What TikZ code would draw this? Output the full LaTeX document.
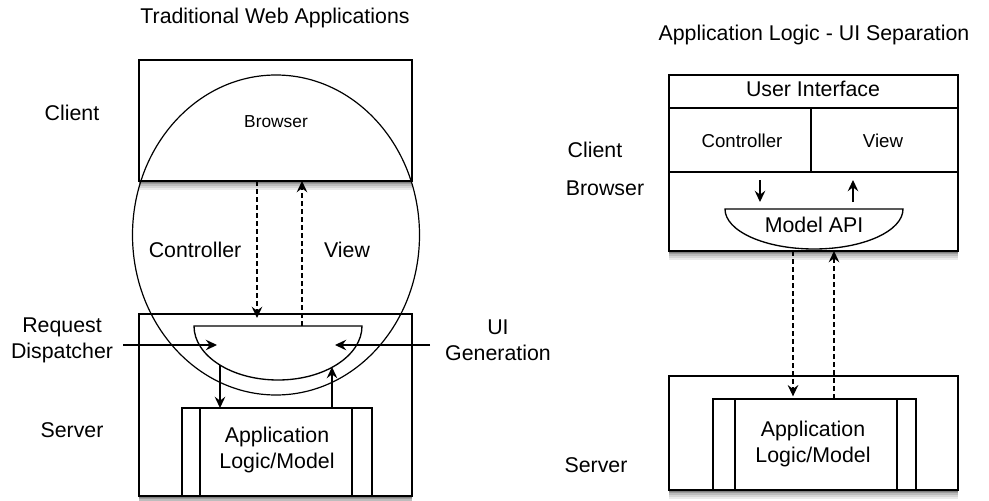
\documentclass[tikz,border=0pt]{standalone}
\usepackage{fontspec}
\setmainfont{Liberation Sans}
\usetikzlibrary{arrows.meta,fit,shapes.geometric}
\begin{document}
\begin{tikzpicture}[x=0.75pt,y=-0.75pt,
  box/.style={draw, line width=1pt, fill=white, inner sep=0pt, outer sep=0pt},
  shadowed/.style={
    preaction={fill=black!8, transform canvas={yshift=-7pt}},
    preaction={fill=black!16, transform canvas={yshift=-5.5pt}},
    preaction={fill=black!26, transform canvas={yshift=-4pt}},
    preaction={fill=black!38, transform canvas={yshift=-2.5pt}},
    preaction={fill=black!50, transform canvas={yshift=-1.2pt}}},
  lbl/.style={font=\fontsize{16}{19.5}\selectfont, align=center, inner sep=0pt},
  mid/.style={font=\fontsize{14}{17}\selectfont, inner sep=0pt},
  small/.style={font=\fontsize{13}{16}\selectfont, inner sep=0pt},
  link/.style={line width=0.9pt, -{Stealth[length=8.5pt,width=8pt,inset=3pt]}},
  dlink/.style={link, dash pattern=on 3.5pt off 2.5pt},
  part/.style={line width=1pt},
]
\useasboundingbox (0,0) rectangle (989,500);

% ---------------- Traditional web applications ----------------
\node[lbl] (ltitle) at (275,18) {Traditional Web Applications};

\node[box, shadowed, fit={(139,60) (412,181)}] (lclient) {};
\node[box, shadowed, fit={(139,314) (412,496)}] (lserver) {};

% the browser sphere spanning client and server
\node[draw, ellipse, line width=0.9pt, inner sep=0pt,
      minimum width=215.25pt, minimum height=240pt] (lsphere) at (276,235) {};

% request dispatcher bowl
\draw[part, fill=white] (194,326) -- (362,326)
  arc[start angle=0, end angle=-180, x radius=63pt, y radius=40.5pt] -- cycle;
\coordinate (ldisp) at (278,326);

% application logic block
\node[box, fit={(182,408) (372,496)}] (lapp) {};
\draw[part] (lapp.north -| 200,0) -- (lapp.south -| 200,0);
\draw[part] (lapp.north -| 352,0) -- (lapp.south -| 352,0);
\node[lbl] (lapptext) at (277,450) {Application\\Logic/Model};

\node[lbl] (lclientlbl) at (72,113) {Client};
\node[lbl] (lserverlbl) at (72,430) {Server};
\node[small] (lbrowser) at (276,122) {Browser};
\node[lbl] (lctrl) at (195,250) {Controller};
\node[lbl] (lview) at (347,250) {View};
\node[lbl] (lreq) at (62,340) {Request\\Dispatcher};
\node[lbl] (lui) at (498,340) {UI\\Generation};

% connectors
\coordinate (lcx) at (257,0);
\coordinate (lvx) at (302,0);
\draw[dlink] (lclient.south -| lcx) -- ([yshift=-3pt]lserver.north -| lcx);
\draw[dlink] (ldisp -| lvx) -- (lclient.south -| lvx);
\coordinate (lreqa) at (123,345);
\coordinate (lreqb) at (217,345);
\draw[link] (lreqa) -- (lreqb);
\coordinate (luia) at (430,345);
\coordinate (luib) at (335,345);
\draw[link] (luia) -- (luib);
\coordinate (ldown) at (220,365);
\draw[link] (ldown) -- (lapp.north -| ldown);
\coordinate (lup) at (332,367);
\draw[link] (lapp.north -| lup) -- (lup);

% ---------------- Application logic / UI separation ----------------
\node[lbl] (rtitle) at (814,35) {Application Logic - UI Separation};

\node[box, shadowed, fit={(669,75) (958,251)}] (rclient) {};
\draw[part] (rclient.west |- 0,108) -- (rclient.east |- 0,108);
\draw[part] (rclient.west |- 0,172) -- (rclient.east |- 0,172);
\draw[part] (811,108) -- (811,172);
\node[lbl] (rui) at (813,89) {User Interface};
\node[mid] (rctrl) at (742,141) {Controller};
\node[mid] (rview) at (883,141) {View};

% model API bowl
\draw[part, fill=white] (725,209) -- (903,209)
  arc[start angle=0, end angle=-180, x radius=66.75pt, y radius=30pt] -- cycle;
\node[lbl] (rapi) at (814,225) {Model API};

\coordinate (rca) at (760,180);
\coordinate (rcb) at (760,202);
\draw[link] (rca) -- (rcb);
\coordinate (rva) at (853,180);
\coordinate (rvb) at (853,202);
\draw[link] (rvb) -- (rva);

\node[lbl] (rclientlbl) at (595,150) {Client};
\node[lbl] (rbrowserlbl) at (605,188) {Browser};

\node[box, shadowed, fit={(669,376) (958,490)}] (rserver) {};
\node[box, fit={(713,399) (916,490)}] (rapp) {};
\draw[part] (rapp.north -| 735,0) -- (rapp.south -| 735,0);
\draw[part] (rapp.north -| 897,0) -- (rapp.south -| 897,0);
\node[lbl] (rapptext) at (813,444) {Application\\Logic/Model};
\node[lbl] (rserverlbl) at (596,465) {Server};

\coordinate (rdx) at (793,0);
\coordinate (rux) at (834,0);
\draw[dlink] (rclient.south -| rdx) -- ([yshift=2pt]rapp.north -| rdx);
\draw[dlink] (rapp.north -| rux) -- (rclient.south -| rux);
\end{tikzpicture}
\end{document}
